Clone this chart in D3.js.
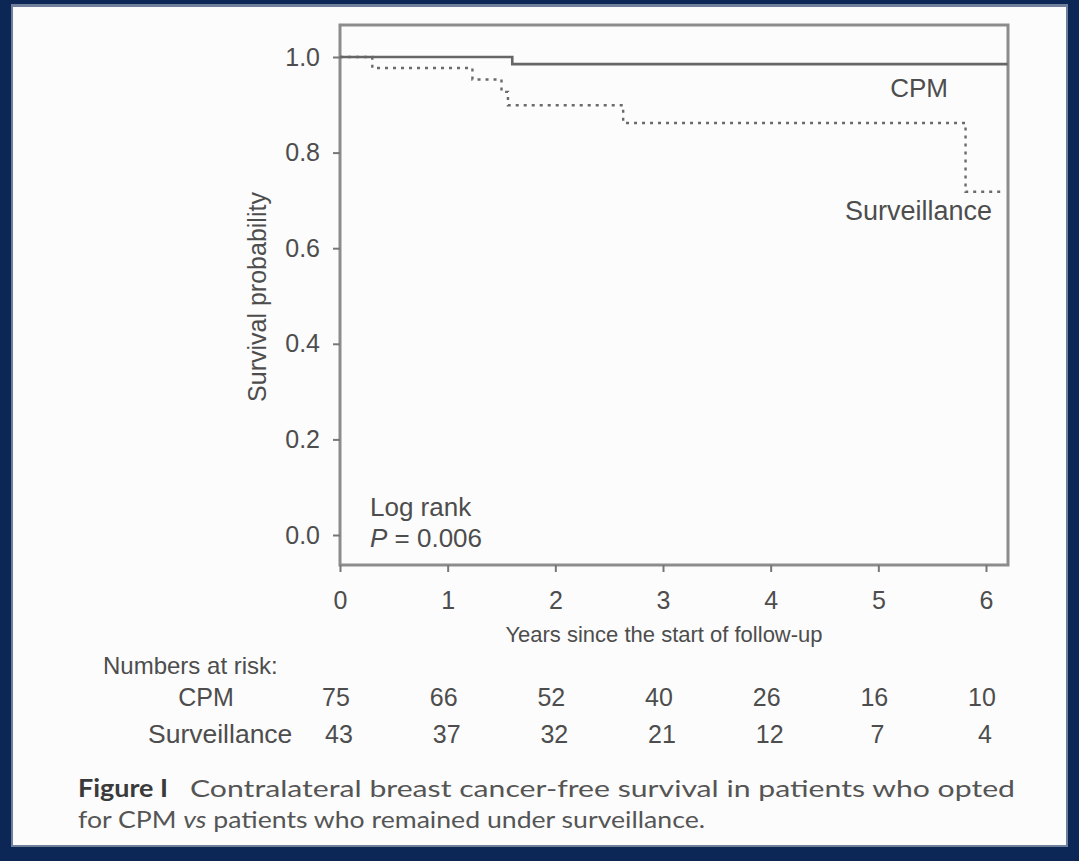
<!DOCTYPE html>
<html><head><meta charset="utf-8">
<script src="https://cdn.jsdelivr.net/npm/d3@7"></script>
<style>
html,body{margin:0;padding:0;background:#0c2756;}
svg{display:block;}
</style></head>
<body>
<script>
// ---- data ----
const xTickYears = [0, 1, 2, 3, 4, 5, 6];
const yTickValues = [0.0, 0.2, 0.4, 0.6, 0.8, 1.0];
const cpmTimes = [0, 1.60, 6.2];
const cpmSurvival = [1.0, 0.985, 0.985];
const survTimes = [0, 0.30, 1.23, 1.50, 1.56, 2.63, 5.81, 6.17];
const survSurvival = [1.0, 0.977, 0.953, 0.927, 0.899, 0.862, 0.718, 0.718];
const riskGroups = ["CPM", "Surveillance"];
const riskCPM = [75, 66, 52, 40, 26, 16, 10];
const riskSurv = [43, 37, 32, 21, 12, 7, 4];

const W = 1079, H = 861;
const svg = d3.select("body").append("svg").attr("width", W).attr("height", H);

// frame
svg.append("rect").attr("x",0).attr("y",0).attr("width",W).attr("height",H).attr("fill","#0c2756");
svg.append("rect").attr("x",11).attr("y",4).attr("width",1057).attr("height",843).attr("fill","#6f7f9c");
svg.append("rect").attr("x",13).attr("y",7).attr("width",1053).attr("height",838).attr("fill","#fcfcfc");

const x = d3.scaleLinear().domain([0, 6]).range([340, 986]);
const y = d3.scaleLinear().domain([0, 1]).range([535, 57]);
const xMax = x.invert(1008), yMin = y.invert(565), yMax = y.invert(25);

const axisCol = "#8c8c8c", textCol = "#4d4d4d";
const font = "'Liberation Sans', Arial, sans-serif";
const FS = 25;

// box
const g = svg.append("g");
g.append("rect").attr("x", x(0)).attr("y", y(yMax)).attr("width", x(xMax) - x(0)).attr("height", y(yMin) - y(yMax))
  .attr("fill","none").attr("stroke",axisCol).attr("stroke-width",3);

// y axis
const yAxis = d3.axisLeft(y).tickValues(yTickValues).tickFormat(d3.format(".1f")).tickSize(7).tickPadding(13);
const ya = g.append("g").attr("transform",`translate(${x(0)},0)`).call(yAxis);
ya.select(".domain").remove();
ya.selectAll("line").attr("stroke","#777").attr("stroke-width",2);
ya.selectAll("text").attr("font-family",font).attr("font-size",FS).attr("fill",textCol);

// x axis
const xAxis = d3.axisBottom(x).tickValues(xTickYears).tickFormat(d3.format("d")).tickSize(7).tickPadding(19);
const xa = g.append("g").attr("transform",`translate(0,${y(yMin)})`).call(xAxis);
xa.select(".domain").remove();
xa.selectAll("line").attr("stroke","#777").attr("stroke-width",2);
xa.selectAll("text").attr("font-family",font).attr("font-size",FS).attr("fill",textCol);

// curves
const line = d3.line().x(d => x(d[0])).y(d => y(d[1])).curve(d3.curveStepAfter);
g.append("path").datum(survTimes.map((t,i)=>[t, survSurvival[i]]))
  .attr("d", line).attr("fill","none").attr("stroke","#6a6a6a").attr("stroke-width",2.4)
  .attr("stroke-dasharray","3,5");
g.append("path").datum(cpmTimes.map((t,i)=>[t, cpmSurvival[i]]))
  .attr("d", line).attr("fill","none").attr("stroke","#666").attr("stroke-width",2.6);

// labels
const txt = (s, px, py, size, anchor) => svg.append("text").attr("x",px).attr("y",py).attr("font-family",font)
    .attr("font-size",size).attr("fill",textCol).attr("text-anchor",anchor||"start").text(s);

txt("CPM", 948, 97, 26, "end");
txt("Surveillance", 992, 220, 27, "end");
txt("Log rank", 370, 516, 26);
const p = svg.append("text").attr("x",370).attr("y",547).attr("font-family",font).attr("font-size",26).attr("fill",textCol);
p.append("tspan").attr("font-style","italic").text("P");
p.append("tspan").text(" = 0.006");

svg.append("text").attr("transform","translate(266,297) rotate(-90)").attr("text-anchor","middle")
  .attr("font-family",font).attr("font-size",FS).attr("fill",textCol).text("Survival probability");
txt("Years since the start of follow-up", 664, 642, 22, "middle");

// numbers at risk
txt("Numbers at risk:", 103, 674, 24);
txt(riskGroups[0], 206, 706, FS, "middle");
txt(riskGroups[1], 148, 743, 26.5);
riskCPM.forEach((v,i)=> txt(String(v), x(xTickYears[i]) - 4, 706, FS, "middle"));
riskSurv.forEach((v,i)=> txt(String(v), x(xTickYears[i]) - 1, 743, FS, "middle"));

// caption
const capFont = "Lato, 'Open Sans', sans-serif";
const c1 = svg.append("text").attr("y",797).attr("font-family",capFont).attr("font-size",24).attr("fill","#555");
c1.append("tspan").attr("x",78).attr("font-weight","bold").attr("fill","#3a3a3a").text("Figure I")
  .attr("textLength",90).attr("lengthAdjust","spacingAndGlyphs");
c1.append("tspan").attr("x",190).text("Contralateral breast cancer-free survival in patients who opted")
  .attr("textLength",825).attr("lengthAdjust","spacingAndGlyphs");
const c2 = svg.append("text").attr("x",78).attr("y",828).attr("font-family",capFont).attr("font-size",24).attr("fill","#555")
  .attr("textLength",627).attr("lengthAdjust","spacingAndGlyphs");
c2.append("tspan").text("for CPM ");
c2.append("tspan").attr("font-style","italic").text("vs");
c2.append("tspan").text(" patients who remained under surveillance.");
</script>
</body></html>
